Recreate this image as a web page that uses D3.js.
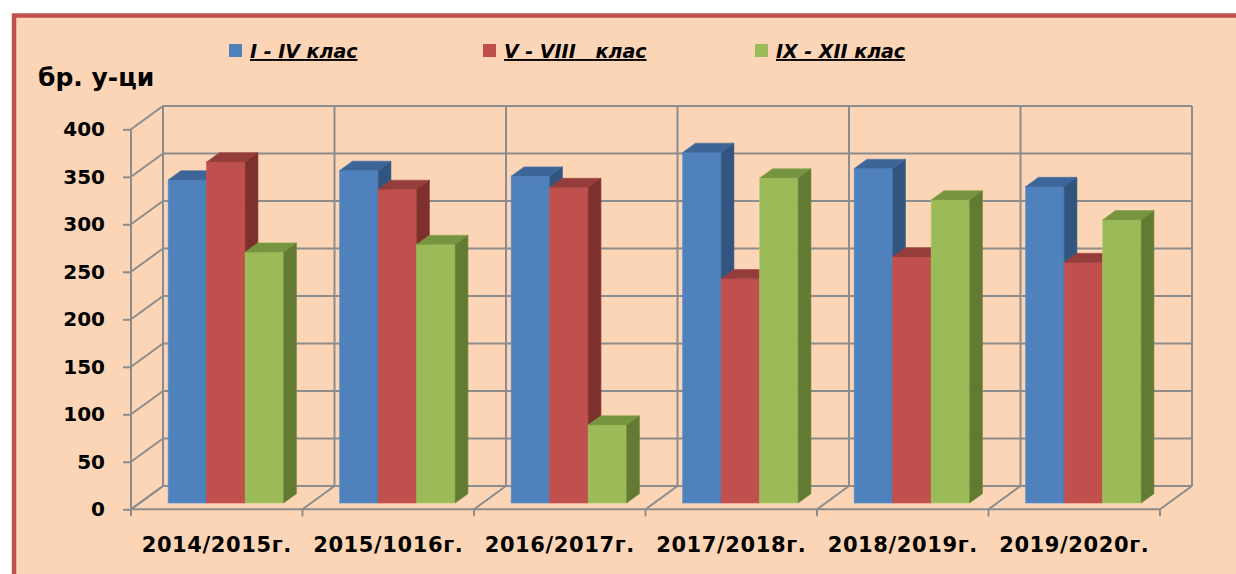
<!DOCTYPE html>
<html><head><meta charset="utf-8">
<script src="https://cdn.jsdelivr.net/npm/d3@7"></script>
<style>
html,body{margin:0;padding:0;background:#fff;}
svg{display:block;}
text{font-family:"DejaVu Sans",Verdana,sans-serif;font-weight:bold;fill:#000;}
</style></head>
<body>
<svg id="chart" width="1236" height="574"></svg>
<script>
const categories = ["2014/2015г.", "2015/1016г.", "2016/2017г.", "2017/2018г.", "2018/2019г.", "2019/2020г."];
const seriesNames = ["I - IV клас", "V - VIII   клас", "IX - XII клас"];
const grade1to4 = [340, 350, 344, 369, 352, 333];
const grade5to8 = [359, 330, 332, 236, 259, 253];
const grade9to12 = [264, 272, 82, 342, 319, 298];
const yTicks = [0, 50, 100, 150, 200, 250, 300, 350, 400];
const yTitle = "бр. у-ци";

const seriesValues = [grade1to4, grade5to8, grade9to12];
const front = ["#4F81BD", "#C0504D", "#9BBB59"];
const topC = ["#3D6597", "#943D3B", "#779440"];
const sideC = ["#325580", "#7E302E", "#637A33"];

const svg = d3.select("#chart");

// frame
svg.append("rect").attr("x", 14).attr("y", 15.5).attr("width", 1240).attr("height", 580)
  .attr("fill", "#FBD5B5").attr("stroke", "#C0504D").attr("stroke-width", 4.5);

const X0 = 131, W = 1029, Y0 = 509.3;
const DX = 32, DY = -23.3;
const zF = 0.27, zB = 0.67;

const x0 = d3.scaleBand().domain(categories).range([X0, X0 + W]).paddingInner(0).paddingOuter(0);
const x1 = d3.scaleBand().domain(seriesNames).range([28.5, x0.bandwidth() - 27.5]).padding(0);
const y = d3.scaleLinear().domain([0, 400]).range([Y0, 129.3]);

const grid = svg.append("g").attr("stroke", "#8C8C8C").attr("stroke-width", 2).attr("fill", "none");
yTicks.forEach(t => {
  grid.append("line").attr("x1", X0 + DX).attr("x2", X0 + W + DX)
    .attr("y1", y(t) + DY).attr("y2", y(t) + DY);
  grid.append("line").attr("x1", X0).attr("y1", y(t)).attr("x2", X0 + DX).attr("y2", y(t) + DY);
});
const bounds = categories.map(c => x0(c)).concat([X0 + W]);
bounds.forEach(bx => {
  grid.append("line").attr("x1", bx + DX).attr("x2", bx + DX)
    .attr("y1", y(400) + DY).attr("y2", y(0) + DY);
  grid.append("line").attr("x1", bx).attr("y1", y(0)).attr("x2", bx + DX).attr("y2", y(0) + DY);
});
grid.append("line").attr("x1", X0).attr("x2", X0 + W).attr("y1", Y0).attr("y2", Y0);
bounds.forEach(bx => {
  grid.append("line").attr("x1", bx).attr("x2", bx).attr("y1", Y0).attr("y2", Y0 + 7);
});

// y axis (front)
const yAxis = d3.axisLeft(y).tickValues(yTicks).tickSize(8).tickPadding(18).tickFormat(d3.format("d"));
const ya = svg.append("g").attr("transform", `translate(${X0},0)`).call(yAxis);
ya.select(".domain").attr("stroke", "#8C8C8C").attr("stroke-width", 2).attr("d", `M0,${y(400)}V${Y0}`);
ya.selectAll(".tick line").attr("stroke", "#8C8C8C").attr("stroke-width", 2);
ya.selectAll(".tick text").attr("font-family", "DejaVu Sans").attr("font-weight", "bold")
  .attr("font-size", 20).attr("fill", "#000");

// bars
const bars = svg.append("g");
categories.forEach((c, ci) => {
  seriesNames.forEach((s, si) => {
    const v = seriesValues[si][ci];
    const xl = x0(c) + x1(s), xr = xl + x1.bandwidth();
    const yt = y(v), yb = y(0);
    const g = bars.append("g");
    g.append("rect").attr("x", xl + zF * DX).attr("y", yt + zF * DY)
      .attr("width", xr - xl).attr("height", yb - yt)
      .attr("fill", front[si]).attr("stroke", d3.color(front[si]).brighter(0.3)).attr("stroke-width", 0.6);
    const top = [[xl + zF * DX, yt + zF * DY], [xr + zF * DX, yt + zF * DY], [xr + zB * DX, yt + zB * DY], [xl + zB * DX, yt + zB * DY]];
    g.append("path").attr("d", d3.line()(top) + "Z").attr("fill", topC[si])
      .attr("stroke", d3.color(topC[si]).brighter(0.3)).attr("stroke-width", 0.6);
    const side = [[xr + zF * DX, yt + zF * DY], [xr + zB * DX, yt + zB * DY], [xr + zB * DX, yb + zB * DY], [xr + zF * DX, yb + zF * DY]];
    g.append("path").attr("d", d3.line()(side) + "Z").attr("fill", sideC[si])
      .attr("stroke", d3.color(sideC[si]).brighter(0.3)).attr("stroke-width", 0.6);
  });
});

// category labels
svg.append("g").selectAll("text").data(categories).join("text")
  .attr("x", d => x0(d) + x0.bandwidth() / 2).attr("y", 552)
  .attr("text-anchor", "middle").attr("font-size", 21).attr("letter-spacing", 0.6).text(d => d);

// y title
svg.append("text").attr("x", 38).attr("y", 86).attr("font-size", 25).text(yTitle);

// legend
const legendX = [229, 483, 755];
const lg = svg.append("g");
seriesNames.forEach((s, i) => {
  lg.append("rect").attr("x", legendX[i]).attr("y", 44).attr("width", 13).attr("height", 13).attr("fill", front[i]);
  lg.append("text").attr("x", legendX[i] + 21).attr("y", 58).attr("font-size", 19)
    .attr("font-style", "italic").attr("text-decoration", "underline")
    .style("white-space", "pre").attr("xml:space", "preserve").text(s);
});
</script>
</body></html>
